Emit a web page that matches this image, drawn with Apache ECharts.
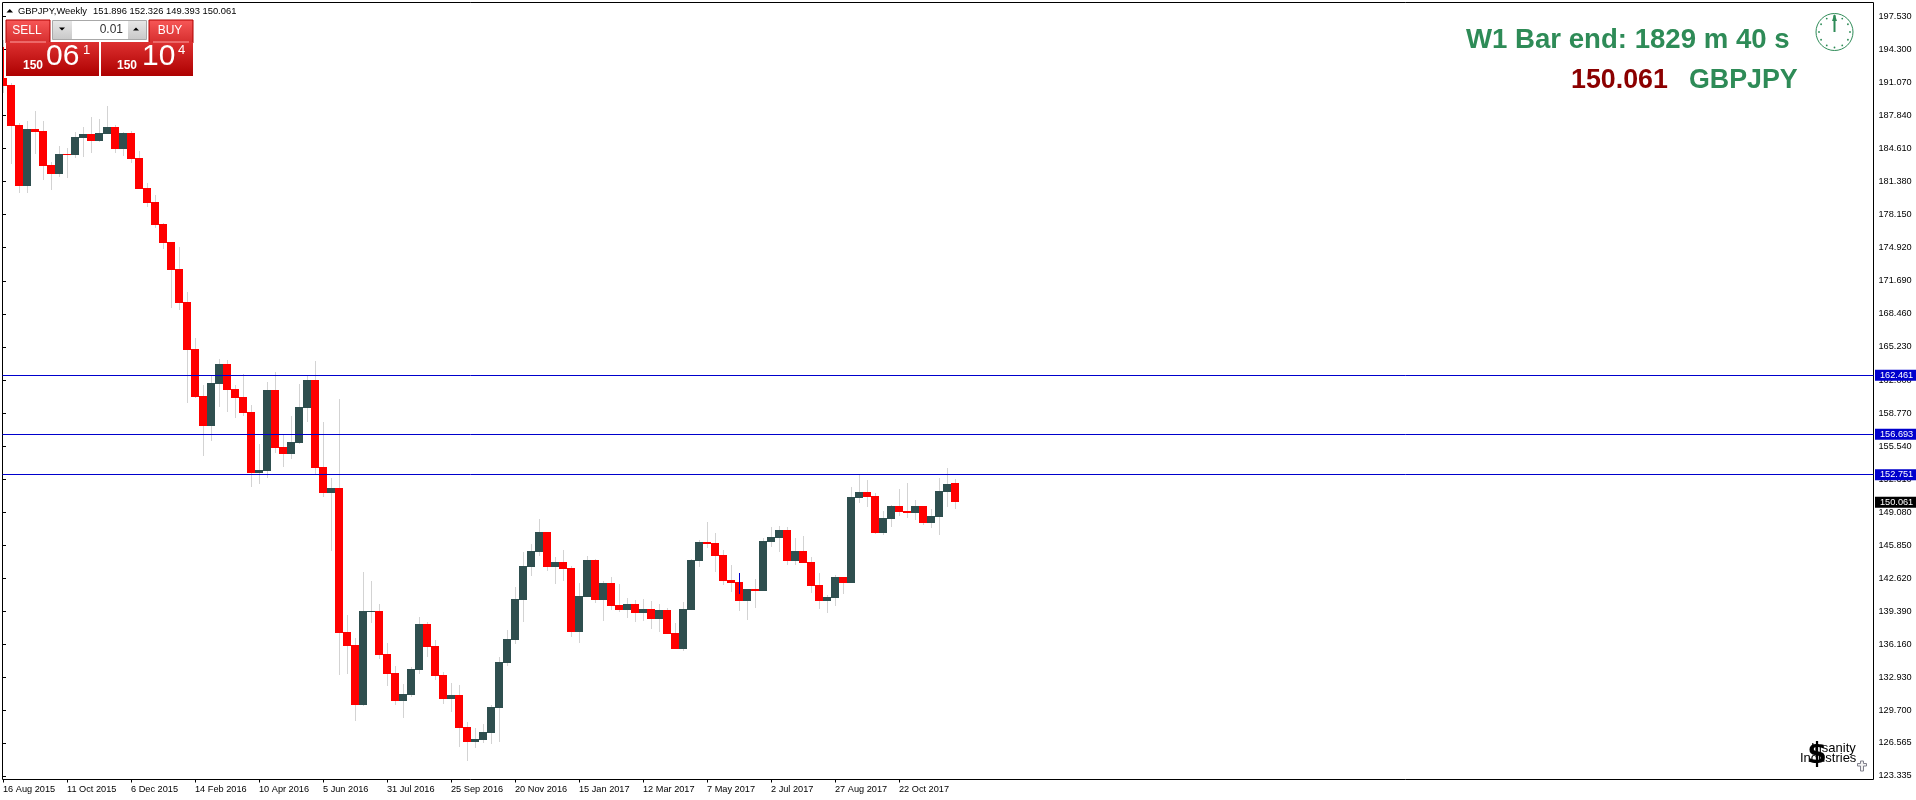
<html>
    <head>
        <meta charset="utf-8">
        <script src="https://cdn.jsdelivr.net/npm/echarts@6/dist/echarts.min.js"></script>
        <style>
            html, body {
                margin: 0;
                background: #fff;
            }
            #chart {
                width: 1916px;
                height: 800px;
            }
        </style>
    </head>
    <body>
        <div id="chart"></div>

        <script>

        // Weekly GBPJPY candles
        var opens = [
            191.49, 190.81, 186.90, 180.94, 186.51, 186.32, 182.99, 182.12, 184.07, 183.97,
            185.63, 186.02, 185.34, 186.02, 186.71, 184.56, 186.12, 183.68, 180.75, 179.38,
            177.23, 175.48, 172.84, 169.62, 165.03, 160.44, 157.51, 161.61, 163.56, 161.12,
            160.34, 158.87, 152.92, 153.11, 161.02, 155.46, 154.77, 155.85, 159.27, 162.00,
            153.50, 150.96, 151.45, 137.39, 136.12, 130.26, 139.34, 139.44, 135.24, 133.38,
            130.65, 131.24, 133.68, 138.17, 136.02, 133.19, 130.85, 131.24, 128.11, 126.65,
            126.84, 127.53, 129.97, 134.36, 136.61, 140.51, 143.74, 145.20, 147.15, 143.74,
            144.22, 143.64, 137.39, 140.81, 144.42, 140.51, 142.17, 140.03, 139.54, 140.12,
            139.25, 139.64, 138.66, 139.54, 137.29, 135.73, 139.54, 144.32, 146.18, 146.08,
            144.91, 142.47, 142.27, 140.42, 141.59, 141.39, 146.18, 146.57, 147.35, 144.32,
            145.30, 144.22, 141.98, 140.42, 140.71, 142.76, 142.17, 150.47, 151.06, 150.67,
            147.06, 148.42, 149.69, 149.20, 149.01, 149.69, 148.03, 148.62, 151.06, 151.896
        ];
        var closes = [
            190.71, 186.80, 180.94, 186.51, 186.22, 182.90, 182.12, 184.07, 183.97, 185.73,
            186.02, 185.34, 186.12, 186.71, 184.56, 186.12, 183.58, 180.65, 179.29, 177.14,
            175.38, 172.74, 169.52, 164.93, 160.34, 157.51, 161.71, 163.56, 161.02, 160.24,
            158.78, 152.92, 153.21, 161.02, 155.36, 154.77, 155.94, 159.36, 162.00, 153.40,
            150.96, 151.45, 137.29, 136.02, 130.26, 139.44, 139.44, 135.14, 133.29, 130.65,
            131.34, 133.78, 138.17, 135.92, 133.09, 130.85, 131.24, 128.01, 126.65, 126.94,
            127.62, 130.07, 134.46, 136.70, 140.61, 143.83, 145.30, 147.15, 143.74, 144.22,
            143.54, 137.39, 140.91, 144.42, 140.51, 142.17, 139.93, 139.54, 140.12, 139.25,
            139.64, 138.66, 139.54, 137.19, 135.73, 139.64, 144.42, 146.18, 145.98, 144.81,
            142.37, 142.17, 140.42, 141.59, 141.39, 146.28, 146.67, 147.35, 144.32, 145.30,
            144.13, 141.88, 140.42, 140.81, 142.76, 142.17, 150.57, 151.06, 150.57, 147.06,
            148.52, 149.69, 149.11, 149.01, 149.69, 148.03, 148.72, 151.16, 151.84, 150.061
        ];
        var lows = [
            190.03, 183.09, 180.26, 180.26, 184.07, 181.53, 180.55, 181.82, 181.73, 183.68,
            183.78, 184.17, 185.24, 186.02, 184.17, 183.87, 183.19, 180.65, 178.89, 176.84,
            174.79, 169.03, 168.84, 159.75, 160.24, 154.58, 156.04, 159.36, 158.87, 158.29,
            158.48, 151.55, 151.84, 152.43, 154.87, 153.50, 154.28, 155.75, 157.90, 152.82,
            150.57, 145.30, 133.19, 133.29, 128.70, 130.16, 138.27, 134.75, 132.11, 130.26,
            128.99, 131.04, 133.29, 134.95, 132.70, 130.36, 129.58, 126.16, 124.79, 126.06,
            126.55, 126.45, 126.65, 134.07, 136.22, 138.36, 142.86, 144.81, 143.35, 142.08,
            142.37, 136.90, 136.31, 140.81, 140.22, 138.46, 139.54, 139.34, 138.76, 138.36,
            138.46, 137.68, 137.39, 137.19, 135.73, 135.53, 139.54, 143.74, 145.59, 143.25,
            141.98, 141.29, 139.44, 138.56, 139.73, 141.39, 145.69, 145.20, 143.93, 143.93,
            144.13, 141.20, 139.64, 139.25, 139.93, 141.10, 142.17, 149.99, 149.60, 146.96,
            146.86, 147.64, 148.72, 148.52, 148.33, 147.84, 147.54, 146.86, 149.60, 149.393
        ];
        var highs = [
            195.20, 191.00, 187.10, 187.29, 188.27, 187.29, 183.29, 184.85, 184.66, 186.22,
            186.71, 187.68, 187.49, 188.76, 186.90, 186.22, 186.32, 184.36, 181.24, 180.07,
            177.33, 175.48, 174.99, 170.59, 166.10, 161.51, 162.39, 164.05, 163.95, 161.51,
            162.58, 159.56, 155.75, 161.80, 162.78, 156.63, 158.48, 161.61, 162.39, 163.85,
            157.90, 152.43, 160.14, 139.05, 136.80, 143.25, 142.37, 140.12, 136.31, 134.07,
            132.31, 133.97, 138.85, 138.36, 136.61, 133.48, 132.41, 132.21, 128.60, 128.01,
            128.41, 130.26, 134.95, 137.59, 141.78, 145.20, 145.98, 148.42, 147.15, 144.71,
            145.40, 143.83, 142.17, 144.81, 144.52, 142.37, 142.76, 142.08, 140.71, 140.51,
            140.61, 140.42, 140.12, 139.73, 138.27, 140.32, 144.52, 146.37, 148.13, 147.06,
            145.40, 143.93, 142.27, 141.59, 142.56, 146.57, 147.64, 147.74, 147.64, 146.57,
            146.76, 144.71, 143.15, 141.00, 142.95, 142.76, 151.55, 152.82, 152.23, 150.96,
            149.20, 149.79, 151.35, 151.94, 150.28, 149.69, 149.40, 152.43, 153.40, 152.326
        ];

        // Candle index of each date label on the time axis
        var timeTickIndex = [0, 8, 16, 24, 32, 40, 48, 56, 64, 72, 80, 88, 96, 104, 112];
        var timeTickLabels = [
            '16 Aug 2015', '11 Oct 2015', '6 Dec 2015', '14 Feb 2016', '10 Apr 2016',
            '5 Jun 2016', '31 Jul 2016', '25 Sep 2016', '20 Nov 2016', '15 Jan 2017',
            '12 Mar 2017', '7 May 2017', '2 Jul 2017', '27 Aug 2017', '22 Oct 2017'
        ];
        var priceTicks = [
            197.530, 194.300, 191.070, 187.840, 184.610, 181.380, 178.150, 174.920,
            171.690, 168.460, 165.230, 162.000, 158.770, 155.540, 152.310, 149.080,
            145.850, 142.620, 139.390, 136.160, 132.930, 129.700, 126.565, 123.335
        ];

        var levelLines = [162.461, 156.693, 152.751];
        var lastPrice = 150.061;

        // the sliver of the previous bar at the left edge, and the blue bar on 92
        var edgeSliver = [0, 191.49, 194.52];
        var blueMark = [92, 141.10, 143.15];

        var bullColor = '#2f4f4f';
        var bearColor = '#ff0000';
        var wickColor = '#d3d3d3';
        var levelColor = '#0000cd';
        var fontName = '"Liberation Sans", Arial, sans-serif';

        var candleRows = [];
        for (var i = 0; i < opens.length; i++) {
            candleRows.push([i, opens[i], closes[i], lows[i], highs[i]]);
        }

        function renderCandle(params, api) {
            var idx = api.value(0);
            var open = api.value(1);
            var close = api.value(2);
            var x = Math.round(api.coord([idx, open])[0]);
            var yOpen = Math.round(api.coord([idx, open])[1]);
            var yClose = Math.round(api.coord([idx, close])[1]);
            var yLow = Math.round(api.coord([idx, api.value(3)])[1]);
            var yHigh = Math.round(api.coord([idx, api.value(4)])[1]);
            var top = Math.min(yOpen, yClose);
            var left = Math.max(x - 4, params.coordSys.x + 0.5);
            return {
                type: 'group',
                children: [{
                    type: 'rect',
                    shape: { x: x, y: yHigh, width: 1, height: yLow - yHigh },
                    style: { fill: wickColor }
                }, {
                    type: 'rect',
                    shape: { x: left, y: top, width: x + 4 - left, height: Math.max(Math.abs(yOpen - yClose), 1) },
                    style: { fill: close > open ? bullColor : bearColor }
                }]
            };
        }

        function renderThinBar(params, api) {
            var x = Math.round(api.coord([api.value(0), api.value(1)])[0]);
            var y1 = Math.round(api.coord([api.value(0), api.value(1)])[1]);
            var y2 = Math.round(api.coord([api.value(0), api.value(2)])[1]);
            return {
                type: 'rect',
                shape: { x: x, y: y2, width: 1, height: y1 - y2 },
                style: { fill: api.visual('color') }
            };
        }

        function levelItem(value, color, lineColor) {
            return {
                yAxis: value,
                lineStyle: { color: lineColor, width: 1, type: 'solid' },
                label: {
                    show: true,
                    position: 'end',
                    distance: 1.5,
                    formatter: value.toFixed(3),
                    color: '#fff',
                    backgroundColor: color,
                    fontFamily: fontName,
                    fontSize: 9.2,
                    padding: [1, 4, 1, 5]
                }
            };
        }

        function panelRect(x, y, w, h, top, bottom, stroke) {
            return {
                type: 'rect',
                z: 20,
                shape: { x: x, y: y, width: w, height: h },
                style: {
                    fill: new echarts.graphic.LinearGradient(0, 0, 0, 1, [
                        { offset: 0, color: top },
                        { offset: 1, color: bottom }
                    ]),
                    stroke: stroke || null
                }
            };
        }

        function label(text, x, y, size, color, opts) {
            opts = opts || {};
            return {
                type: 'text',
                z: opts.z || 21,
                x: x,
                y: y,
                style: {
                    text: text,
                    fill: color,
                    font: (opts.bold ? 'bold ' : '') + size + 'px ' + (opts.font || fontName),
                    textAlign: opts.align || 'left',
                    textVerticalAlign: 'bottom'
                }
            };
        }

        // Clock face in the top right corner
        var clockCx = 1834.5;
        var clockCy = 32;
        var clockParts = [{
            type: 'circle',
            z: 21,
            shape: { cx: clockCx, cy: clockCy, r: 18.5 },
            style: { fill: 'none', stroke: '#2e8b57', lineWidth: 1 }
        }, {
            type: 'rect',
            z: 21,
            shape: { x: clockCx - 1, y: 15, width: 2, height: 17 },
            style: { fill: '#2e8b57' }
        }, {
            type: 'polygon',
            z: 21,
            shape: { points: [[clockCx, 14], [clockCx - 2.5, 21], [clockCx + 2.5, 21]] },
            style: { fill: '#2e8b57' }
        }];
        for (var h = 0; h < 12; h++) {
            clockParts.push({
                type: 'circle',
                z: 21,
                shape: {
                    cx: clockCx + 15.5 * Math.sin(h * Math.PI / 6),
                    cy: clockCy - 15.5 * Math.cos(h * Math.PI / 6),
                    r: 0.9
                },
                style: { fill: '#2e8b57' }
            });
        }

        var overlays = [
            // header line
            {
                type: 'polygon',
                z: 21,
                shape: { points: [[6.5, 12.5], [13, 12.5], [9.75, 9]] },
                style: { fill: '#000' }
            },
            label('GBPJPY,Weekly', 18, 16, 9.4, '#000'),
            label('151.896 152.326 149.393 150.061', 93, 16, 9.4, '#000'),

            // sell / buy panel
            panelRect(6, 20, 44, 23, '#f85858', '#d42c2c', '#b00000'),
            panelRect(6, 42, 93, 34, '#dd3030', '#ad0000'),
            panelRect(149, 20, 44, 23, '#f85858', '#d42c2c', '#b00000'),
            panelRect(101, 42, 92, 34, '#dd3030', '#ad0000'),
            panelRect(52.5, 20.5, 94, 19, '#e8e8e8', '#c8c8c8', '#a8a8a8'),
            panelRect(72, 21, 56, 18, '#ffffff', '#ffffff'),
            {
                type: 'rect',
                z: 21,
                shape: { x: 10, y: 41.5, width: 36, height: 1 },
                style: { fill: '#ffa0a0' }
            },
            {
                type: 'rect',
                z: 21,
                shape: { x: 153, y: 41.5, width: 36, height: 1 },
                style: { fill: '#ffa0a0' }
            },
            {
                type: 'polygon',
                z: 21,
                shape: { points: [[59, 27.5], [65, 27.5], [62, 30.5]] },
                style: { fill: '#000' }
            },
            {
                type: 'polygon',
                z: 21,
                shape: { points: [[133, 30.5], [139, 30.5], [136, 27.5]] },
                style: { fill: '#000' }
            },
            label('SELL', 27, 37, 12, '#fff', { align: 'center' }),
            label('BUY', 170, 37, 12, '#fff', { align: 'center' }),
            label('0.01', 123, 36, 12, '#333', { align: 'right' }),
            label('150', 23, 72, 12, '#fff', { bold: true }),
            label('06', 46, 72, 30, '#fff'),
            label('1', 83, 57, 13, '#fff'),
            label('150', 117, 72, 12, '#fff', { bold: true }),
            label('10', 142, 72, 30, '#fff'),
            label('4', 178, 57, 13, '#fff'),

            // bar timer
            label('W1 Bar end: 1829 m 40 s', 1466, 54, 27.6, '#2e8b57', { bold: true }),
            label('150.061', 1571, 94, 26.8, '#8b0000', { bold: true }),
            label('GBPJPY', 1689, 94, 26.8, '#2e8b57', { bold: true }),

            // watermark
            label('$', 1817, 770, 28, '#000', { bold: true, align: 'center', font: '"DejaVu Sans", sans-serif' }),
            label('Insanity', 1811, 755, 13, '#000'),
            label('Industries', 1800, 765, 13, '#000'),
            {
                type: 'polygon',
                z: 21,
                shape: {
                    points: [
                        [1860.5, 761], [1863.5, 761], [1863.5, 763.5], [1866.5, 763.5], [1866.5, 766],
                        [1863.5, 766], [1863.5, 771], [1860.5, 771], [1860.5, 766], [1857.5, 766],
                        [1857.5, 763.5], [1860.5, 763.5]
                    ]
                },
                style: { fill: '#f2f2f2', stroke: '#80808c', lineWidth: 1 }
            }
        ].concat(clockParts);

        var myChart = echarts.init(document.getElementById('chart'));

        var option = {
            animation: false,
            backgroundColor: '#fff',
            grid: {
                show: true,
                left: 2.5,
                top: 2.5,
                width: 1871,
                height: 777,
                borderColor: '#000',
                borderWidth: 1,
                backgroundColor: '#fff'
            },
            xAxis: {
                type: 'value',
                min: -0.0625,
                max: 233.8125,
                splitLine: { show: false },
                axisLine: { show: false },
                axisTick: {
                    show: true,
                    length: 3,
                    lineStyle: { color: '#000' },
                    customValues: timeTickIndex
                },
                axisLabel: {
                    color: '#000',
                    fontFamily: fontName,
                    fontSize: 9.2,
                    margin: 5,
                    align: 'left',
                    customValues: timeTickIndex,
                    formatter: function (value) {
                        return timeTickLabels[timeTickIndex.indexOf(value)];
                    }
                }
            },
            yAxis: {
                type: 'value',
                position: 'right',
                min: 122.985,
                max: 198.866,
                splitLine: { show: false },
                axisLine: { show: false },
                axisTick: {
                    show: true,
                    length: 3,
                    lineStyle: { color: '#000' },
                    customValues: priceTicks
                },
                axisLabel: {
                    color: '#000',
                    fontFamily: fontName,
                    fontSize: 9.2,
                    margin: 5,
                    padding: [4, 0, 0, 0],
                    customValues: priceTicks,
                    formatter: function (value) {
                        return value.toFixed(3);
                    }
                }
            },
            series: [{
                type: 'custom',
                name: 'GBPJPY',
                clip: false,
                renderItem: renderCandle,
                encode: { x: 0, y: [1, 2, 3, 4] },
                data: candleRows,
                markLine: {
                    silent: true,
                    symbol: 'none',
                    animation: false,
                    data: levelLines.map(function (v) {
                        return levelItem(v, levelColor, levelColor);
                    }).concat([levelItem(lastPrice, '#000', 'rgba(0,0,0,0)')])
                }
            }, {
                type: 'custom',
                name: 'edge',
                clip: false,
                renderItem: renderThinBar,
                itemStyle: { color: bearColor },
                encode: { x: 0, y: [1, 2] },
                data: [edgeSliver]
            }, {
                type: 'custom',
                name: 'mark',
                clip: false,
                renderItem: renderThinBar,
                itemStyle: { color: levelColor },
                encode: { x: 0, y: [1, 2] },
                data: [blueMark]
            }],
            graphic: overlays
        };

        myChart.setOption(option);

        </script>
    </body>
</html>
